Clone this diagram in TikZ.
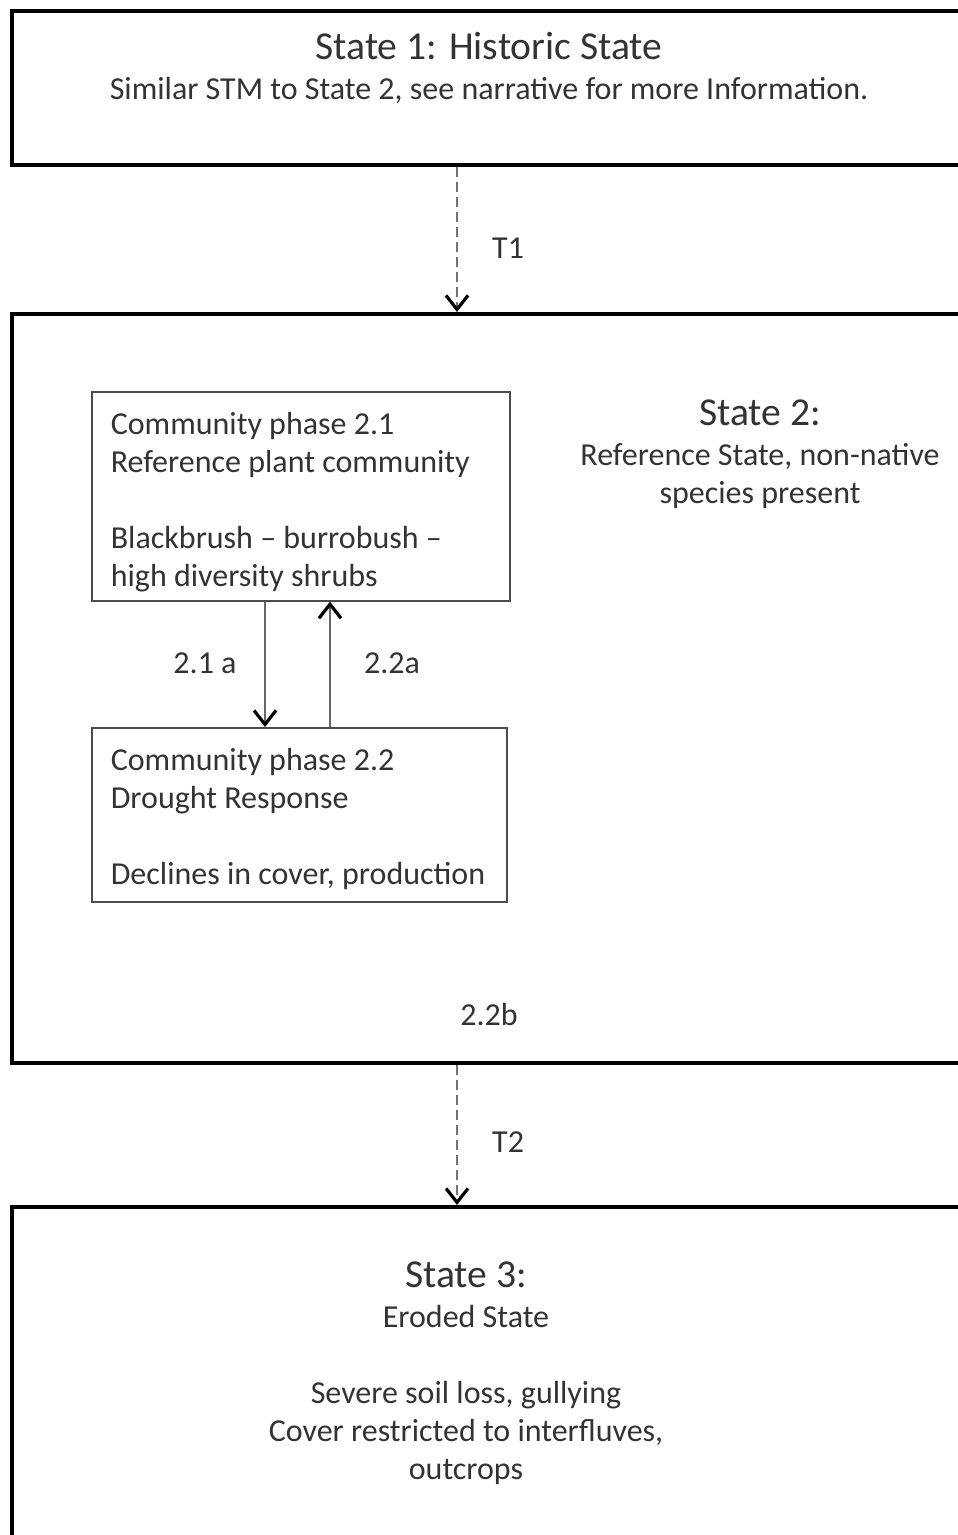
\documentclass[tikz,border=0pt]{standalone}
\usepackage{fontspec}
\setmainfont{Carlito}
\usetikzlibrary{arrows.meta,positioning}

\tikzset{
  statebox/.style={draw=black, line width=3.5pt, inner sep=0pt, anchor=north west,
    minimum width=1000pt},
  phasebox/.style={draw=black!70, line width=1.6pt, inner xsep=19pt, inner ysep=0pt,
    anchor=north west, align=flush left, text=black!80,
    font=\fontsize{32}{38}\selectfont},
  titletext/.style={text=black!80, font=\fontsize{39.6}{46}\selectfont, anchor=base,
    inner sep=0pt},
  bodytext/.style={text=black!80, font=\fontsize{32}{38}\selectfont, anchor=base,
    align=center, inner sep=0pt},
  transition/.style={draw=black!55, line width=2pt, dash pattern=on 10pt off 5pt,
    -{Straight Barb[length=14pt,width=22pt,line width=3.2pt,black]}},
  pathway/.style={draw=black!60, line width=2.2pt,
    -{Straight Barb[length=14pt,width=22pt,line width=3.2pt,black]}}
}

\begin{document}
\begin{tikzpicture}[x=1pt,y=-1pt]
   % page
   \useasboundingbox (0,0) rectangle (958,1535);
   \clip (0,0) rectangle (958,1535);

   % states
   \node[statebox, minimum height=154pt] (state1) at (10,9) {};
   \node[statebox, minimum height=749pt] (state2) at (10,312) {};
   \node[statebox, minimum height=500pt] (state3) at (10,1205) {};

   % community phases
   \node[phasebox, text width=380pt, minimum height=209pt] (ph21) at (91,391)
     {\rule{0pt}{33pt}Community phase 2.1\\Reference plant community\\[38pt]
      Blackbrush -- burrobush --\\high diversity shrubs};
   \node[phasebox, text width=377pt, minimum height=174pt] (ph22) at (91,727)
     {\rule{0pt}{31pt}Community phase 2.2\\Drought Response\\[38pt]
      Declines in cover, production};

   % texts
   \node[titletext] (s1title) at (489,59) {State 1: Historic State};
   \node[bodytext] (s1text) at (489,99)
     {Similar STM to State 2, see narrative for more Information.};
   \node[titletext] (s2title) at (760,425) {State 2:};
   \node[bodytext] (s2text) at (760,503) {Reference State, non-native\\species present};
   \node[titletext] (s3title) at (466,1287) {State 3:};
   \node[bodytext] (s3name) at (466,1327) {Eroded State};
   \node[bodytext] (s3text) at (466,1479)
     {Severe soil loss, gullying\\Cover restricted to interfluves,\\outcrops};

   % transitions and pathways
   \coordinate (mid) at (457,0);
   \coordinate (down) at (265,0);
   \coordinate (up) at (330,0);
   \draw[transition] (state1.south -| mid) -- (state2.north -| mid);
   \draw[transition] (state2.south -| mid) -- (state3.north -| mid);
   \draw[pathway] (ph21.south -| down) -- (ph22.north -| down);
   \draw[pathway] (ph22.north -| up) -- (ph21.south -| up);

   % labels
   \node[bodytext, anchor=base west] (t1) at (492,258) {T1};
   \node[bodytext, anchor=base west] (t2) at (492,1152) {T2};
   \node[bodytext] (p21a) at (205,673) {2.1 a};
   \node[bodytext] (p22a) at (392,673) {2.2a};
   \node[bodytext] (p22b) at (489,1025) {2.2b};
\end{tikzpicture}
\end{document}
